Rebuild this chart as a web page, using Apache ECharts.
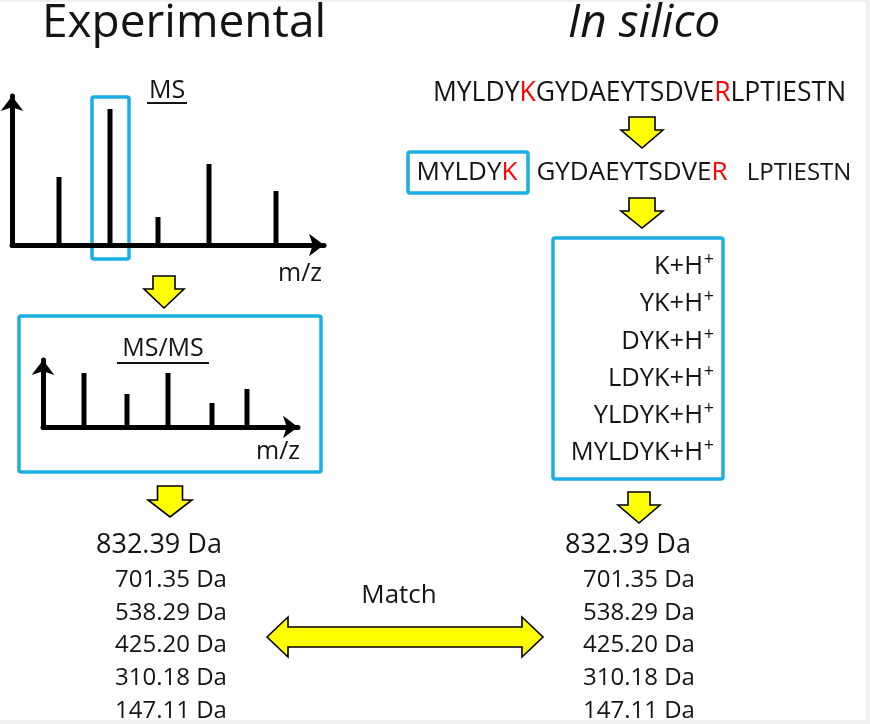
<!DOCTYPE html>
<html><head><meta charset="utf-8">
<script src="https://cdn.jsdelivr.net/npm/echarts@6/dist/echarts.min.js"></script>
<style>html,body{margin:0;padding:0;background:#fff}#c{width:870px;height:724px}</style>
</head><body><div id="c"></div>
<script>
// ---- data ----
const msMz = [47, 98, 146, 197, 264];
const msIntensity = [68, 136, 28, 81, 54];
const msmsMz = [41, 84, 125, 169, 204];
const msmsIntensity = [54, 33, 54, 24, 38];
const selectedPeak = 1;
const proteinSequence = ['MYLDY', 'K', 'GYDAEYTSDVE', 'R', 'LPTIESTN'];
const peptides = [['MYLDY', 'K'], ['GYDAEYTSDVE', 'R'], ['LPTIESTN', '']];
const fragments = ['K', 'YK', 'DYK', 'LDYK', 'YLDYK', 'MYLDYK'];
const experimentalMasses = ['832.39', '701.35', '538.29', '425.20', '310.18', '147.11'];
const inSilicoMasses = ['832.39', '701.35', '538.29', '425.20', '310.18', '147.11'];

const FONT = "'Open Sans','Noto Sans','DejaVu Sans',sans-serif";
const INK = '#141414';
const BLUE = '#1AAEE2';
const YEL = '#FFFF00';

const chart = echarts.init(document.getElementById('c'), null, {renderer: 'canvas'});

function axisStyle(min, max) {
  return {
    type: 'value', min: min, max: max,
    axisLine: {show: true, onZero: false, symbol: ['none', 'arrow'], symbolSize: [17, 15],
      lineStyle: {color: '#000', width: 5}},
    axisTick: {show: false}, axisLabel: {show: false}, splitLine: {show: false}
  };
}

const option = {
  backgroundColor: '#fff',
  animation: false,
  grid: [
    {left: 12, top: 96, width: 312, height: 149},
    {left: 43, top: 360, width: 255, height: 67}
  ],
  xAxis: [Object.assign({gridIndex: 0}, axisStyle(0, 312)), Object.assign({gridIndex: 1}, axisStyle(0, 255))],
  yAxis: [Object.assign({gridIndex: 0}, axisStyle(0, 149)), Object.assign({gridIndex: 1}, axisStyle(0, 67))],
  series: [
    {type: 'bar', xAxisIndex: 0, yAxisIndex: 0, barWidth: 5, itemStyle: {color: '#000'},
      data: msMz.map((x, i) => [x, msIntensity[i]])},
    {type: 'bar', xAxisIndex: 1, yAxisIndex: 1, barWidth: 5, itemStyle: {color: '#000'},
      data: msmsMz.map((x, i) => [x, msmsIntensity[i]])}
  ]
};
chart.setOption(option);

function txt(x, y, text, size, extra) {
  return Object.assign({type: 'text', x: x, y: y, silent: true,
    style: Object.assign({text: text, fontSize: size, fontFamily: FONT, fill: INK,
      textAlign: 'center', textVerticalAlign: 'middle'}, (extra && extra.style) || {})},
    extra && extra.el || {});
}
function richTxt(x, y, text, size, align) {
  return {type: 'text', x: x, y: y, silent: true,
    style: {text: text, fontSize: size, fontFamily: FONT, fill: INK, textAlign: align || 'center',
      textVerticalAlign: 'middle', rich: {r: {fill: '#FF0000', fontSize: size, fontFamily: FONT}}}};
}
function box(x1, y1, x2, y2) {
  return {type: 'rect', shape: {x: x1, y: y1, width: x2 - x1, height: y2 - y1, r: 2}, silent: true,
    style: {fill: 'none', stroke: BLUE, lineWidth: 3.5}};
}
function downArrow(cx, top, h, hh, sw, hw) {
  const b = top + h - hh;
  return {type: 'polygon', silent: true,
    shape: {points: [[cx - sw / 2, top], [cx + sw / 2, top], [cx + sw / 2, b], [cx + hw / 2, b], [cx, top + h],
      [cx - hw / 2, b], [cx - sw / 2, b]]},
    style: {fill: YEL, stroke: '#000', lineWidth: 1.6, lineJoin: 'miter'}};
}
function doubleArrow(x1, x2, cy, sh, hh, hl) {
  return {type: 'polygon', silent: true,
    shape: {points: [[x1, cy], [x1 + hl, cy - hh], [x1 + hl, cy - sh], [x2 - hl, cy - sh], [x2 - hl, cy - hh], [x2, cy],
      [x2 - hl, cy + hh], [x2 - hl, cy + sh], [x1 + hl, cy + sh], [x1 + hl, cy + hh]]},
    style: {fill: YEL, stroke: '#000', lineWidth: 1.6}};
}
function uline(x1, x2, y) {
  return {type: 'line', silent: true, shape: {x1: x1, y1: y, x2: x2, y2: y}, style: {stroke: INK, lineWidth: 2}};
}

const pTop = chart.convertToPixel({gridIndex: 0}, [msMz[selectedPeak], msIntensity[selectedPeak]]);
const pBase = chart.convertToPixel({gridIndex: 0}, [msMz[selectedPeak], 0]);

const g = [];
// frame edges
g.push({type: 'rect', shape: {x: 0, y: 0, width: 870, height: 2}, style: {fill: '#f1f1f1'}, silent: true});
g.push({type: 'rect', shape: {x: 866, y: 0, width: 4, height: 724}, style: {fill: '#f1f1f1'}, silent: true});
g.push({type: 'rect', shape: {x: 0, y: 720, width: 870, height: 4}, style: {fill: '#f1f1f1'}, silent: true});

// titles
g.push(txt(184, 24, 'Experimental', 46));
g.push(txt(644, 24, 'In silico', 46, {style: {fontStyle: 'italic'}}));

// MS panel
g.push(box(pTop[0] - 18, pTop[1] - 12, pTop[0] + 19, pBase[1] + 14));
g.push(txt(167, 91, 'MS', 25));
g.push(uline(147, 187, 103));
g.push(txt(300, 274, 'm/z', 25));

// MS/MS panel
g.push(box(19, 316, 321, 472));
g.push(txt(163, 349, 'MS/MS', 25));
g.push(uline(117, 209, 363));
g.push(txt(278, 452, 'm/z', 25));

// arrows
g.push(downArrow(164, 276, 32, 19, 22, 40));
g.push(downArrow(170, 486, 31, 17, 25, 44));
g.push(downArrow(642, 117, 31, 18, 26, 42));
g.push(downArrow(642, 198, 30, 17, 26, 42));
g.push(downArrow(639, 492, 31, 18, 22, 42));
g.push(doubleArrow(267, 543, 637, 10, 20, 21));
g.push(txt(399, 596, 'Match', 26));

// sequence
const seqRich = proteinSequence.map((s, i) => i % 2 === 1 ? '{r|' + s + '}' : s).join('');
g.push(richTxt(639.5, 93, seqRich, 26.5));
const pepX = [467, 632, 799];
const pepSize = [26, 26, 24];
peptides.forEach((p, i) => {
  g.push(richTxt(pepX[i], 173, p[0] + (p[1] ? '{r|' + p[1] + '}' : ''), pepSize[i]));
});
g.push(box(408, 152, 528, 193));

// fragments
g.push(box(553, 238, 723, 479));
fragments.forEach((f, i) => {
  const y = 267 + i * 37.2;
  g.push(txt(703, y, f + '+H', 25.5, {style: {textAlign: 'right'}}));
  g.push(txt(709, y - 7, '+', 18));
});

// masses
experimentalMasses.forEach((m, i) => {
  if (i === 0) g.push(txt(96, 545, m + ' Da', 27, {style: {textAlign: 'left'}}));
  else g.push(txt(115, 580 + (i - 1) * 32.8, m + ' Da', 24, {style: {textAlign: 'left'}}));
});
inSilicoMasses.forEach((m, i) => {
  if (i === 0) g.push(txt(565, 545, m + ' Da', 27, {style: {textAlign: 'left'}}));
  else g.push(txt(583, 580 + (i - 1) * 32.8, m + ' Da', 24, {style: {textAlign: 'left'}}));
});

chart.setOption({graphic: g});
</script></body></html>
